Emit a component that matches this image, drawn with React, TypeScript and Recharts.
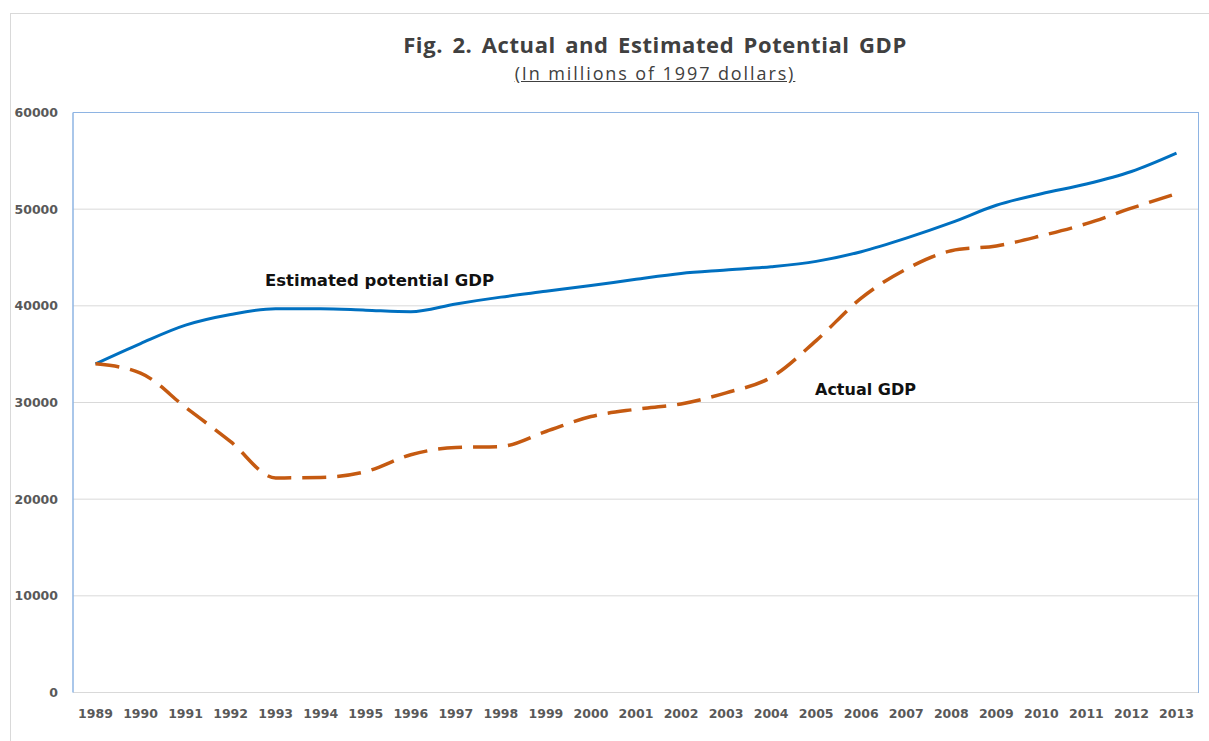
import { LineChart, Line, XAxis, YAxis, CartesianGrid } from 'recharts';

const years = [
  '1989', '1990', '1991', '1992', '1993', '1994', '1995', '1996', '1997',
  '1998', '1999', '2000', '2001', '2002', '2003', '2004', '2005', '2006',
  '2007', '2008', '2009', '2010', '2011', '2012', '2013',
];

// estimated potential GDP, millions of 1997 dollars
const potentialGdp = [
  34000, 36100, 38000, 39100, 39700, 39700, 39550, 39400, 40200,
  40900, 41500, 42100, 42750, 43350, 43700, 44050, 44600, 45600,
  47000, 48600, 50400, 51600, 52600, 53900, 55800,
];

// actual GDP
const actualGdp = [
  34000, 33050, 29500, 25950, 22200, 22250, 22850, 24600, 25350,
  25450, 27000, 28550, 29300, 29850, 31000, 32600, 36400, 40800,
  43800, 45700, 46200, 47250, 48500, 50100, 51600,
];

const yTicks = [0, 10000, 20000, 30000, 40000, 50000, 60000];

const chartData = years.map((year, i) => ({
  year,
  potential: potentialGdp[i],
  actual: actualGdp[i],
}));

const frameBlue = '#8eb4e3';
const tickStyle = { fontSize: 12.5, fill: '#595959', fontWeight: 700, fontFamily: '"DejaVu Sans", sans-serif' };
const noteStyle = {
  position: 'absolute' as const,
  fontFamily: '"DejaVu Sans", sans-serif',
  fontWeight: 700,
  fontSize: 16,
  lineHeight: 1,
  color: '#111',
  whiteSpace: 'nowrap' as const,
};

export default function App() {
  return (
    <div style={{ position: 'absolute', left: 0, top: 0, width: 1209, height: 741, background: '#fff', overflow: 'hidden' }}>
      <div
        style={{
          position: 'absolute', left: 10, top: 13, right: 0, bottom: 0,
          borderTop: '1px solid #d9d9d9', borderLeft: '1px solid #d9d9d9',
        }}
      />
      <LineChart
        width={1209}
        height={741}
        data={chartData}
        margin={{ top: 112.5, right: 10, bottom: 18.5, left: 13 }}
      >
        <CartesianGrid vertical={false} stroke="#d9d9d9" />
        <XAxis
          dataKey="year"
          padding={{ left: 22.5, right: 22.5 }}
          axisLine={false}
          tickLine={false}
          tickSize={0}
          tickMargin={17}
          height={30}
          interval={0}
          tick={tickStyle}
        />
        <YAxis
          domain={[0, 60000]}
          ticks={yTicks}
          axisLine={{ stroke: frameBlue, strokeWidth: 1.5 }}
          tickLine={false}
          tickSize={0}
          tickMargin={15}
          width={60}
          tick={tickStyle}
        />
        <Line
          type="monotone"
          dataKey="potential"
          stroke="#0070c0"
          strokeWidth={3}
          dot={false}
          isAnimationActive={false}
        />
        <Line
          type="monotone"
          dataKey="actual"
          stroke="#c55a11"
          strokeWidth={3.5}
          strokeDasharray="24 11"
          dot={false}
          isAnimationActive={false}
        />
      </LineChart>
      {/* plot-area frame: top and right edges */}
      <div
        style={{
          position: 'absolute', left: 73, top: 112, width: 1125, height: 580,
          borderTop: `1.5px solid ${frameBlue}`, borderRight: `1.5px solid ${frameBlue}`,
          pointerEvents: 'none',
        }}
      />
      <div
        style={{
          position: 'absolute', left: 305, width: 700, top: 33, textAlign: 'center',
          fontFamily: '"Open Sans", sans-serif', fontWeight: 700, fontSize: 22, lineHeight: 1, color: '#404040',
          letterSpacing: 0.6, wordSpacing: 3, whiteSpace: 'nowrap',
        }}
      >
        Fig. 2. Actual and Estimated Potential GDP
      </div>
      <div
        style={{
          position: 'absolute', left: 455, width: 400, top: 64, textAlign: 'center',
          fontFamily: '"Open Sans", sans-serif', fontSize: 18, lineHeight: 1, color: '#404040',
          letterSpacing: 1.9, textDecoration: 'underline', whiteSpace: 'nowrap',
        }}
      >
        (In millions of 1997 dollars)
      </div>
      <div style={{ ...noteStyle, left: 265, top: 273, fontSize: 16.5 }}>Estimated potential GDP</div>
      <div style={{ ...noteStyle, left: 815, top: 382 }}>Actual GDP</div>
    </div>
  );
}
